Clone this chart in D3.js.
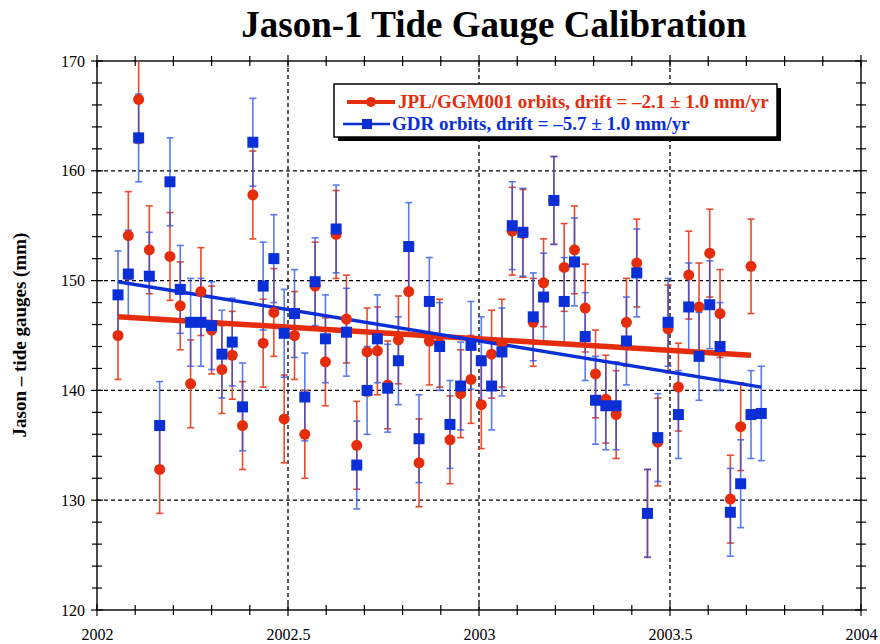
<!DOCTYPE html>
<html>
<head>
<meta charset="utf-8">
<script src="https://cdn.jsdelivr.net/npm/d3@7"></script>
<style>
body { margin: 0; background: #fff; }
text { font-family: "Liberation Serif", "Times New Roman", serif; }
</style>
</head>
<body>
<div id="chart"></div>
<script>
// Jason-1 cycle times (decimal year)
var years = [2002.055, 2002.082, 2002.109, 2002.137, 2002.164, 2002.191, 2002.218, 2002.245, 2002.272, 2002.300,
  2002.327, 2002.354, 2002.381, 2002.408, 2002.435, 2002.463, 2002.490, 2002.517, 2002.544, 2002.571,
  2002.598, 2002.626, 2002.653, 2002.680, 2002.707, 2002.734, 2002.761, 2002.789, 2002.816, 2002.843,
  2002.870, 2002.897, 2002.924, 2002.952, 2002.979, 2003.006, 2003.033, 2003.060, 2003.087, 2003.115,
  2003.142, 2003.169, 2003.196, 2003.223, 2003.250, 2003.278, 2003.305, 2003.332, 2003.359, 2003.386,
  2003.413, 2003.441, 2003.468, 2003.495, 2003.522, 2003.549, 2003.576, 2003.604, 2003.631, 2003.658,
  2003.685, 2003.712, 2003.739];

// JPL/GGM001 orbits (mm), one value less than years
var jplValues = [145.0, 154.1, 166.5, 152.8, 132.8, 152.2, 147.7, 140.6, 149.0, 145.5,
  141.9, 143.2, 136.8, 157.8, 144.3, 147.1, 137.4, 145.0, 136.0, 149.5,
  142.6, 154.2, 146.5, 135.0, 143.5, 143.6, 140.5, 144.6, 149.0, 133.4,
  144.5, 144.3, 135.5, 139.7, 141.0, 138.7, 143.3, 144.3, 154.5, 154.3,
  146.2, 149.8, 157.3, 151.2, 152.8, 147.5, 141.5, 139.2, 137.8, 146.2,
  151.6, 128.8, 135.3, 145.6, 140.3, 150.5, 147.6, 152.5, 147.0, 130.1,
  136.7, 151.3];
var jplErr = [4.0, 4.0, 4.0, 4.0, 4.0, 4.0, 4.0, 4.0, 4.0, 4.0,
  4.0, 4.0, 4.0, 4.0, 4.0, 4.0, 4.0, 4.0, 4.0, 4.0,
  4.0, 4.0, 4.0, 4.0, 4.0, 4.0, 4.0, 4.0, 4.0, 4.0,
  4.0, 4.0, 4.0, 4.0, 4.0, 4.0, 4.0, 4.0, 4.0, 4.0,
  4.0, 4.0, 4.0, 4.0, 4.0, 4.0, 4.0, 4.0, 4.0, 4.0,
  4.0, 4.0, 4.0, 4.0, 4.0, 4.0, 4.0, 4.0, 4.0, 4.0,
  4.0, 4.3];

// GDR orbits (mm)
var gdrValues = [148.7, 150.6, 163.0, 150.4, 136.8, 159.0, 149.2, 146.2, 146.2, 145.9,
  143.3, 144.4, 138.5, 162.6, 149.5, 152.0, 145.2, 147.0, 139.4, 149.9,
  144.7, 154.7, 145.3, 133.2, 140.0, 144.7, 140.2, 142.7, 153.1, 135.6,
  148.1, 144.0, 136.9, 140.4, 144.1, 142.7, 140.4, 143.5, 155.0, 154.4,
  146.7, 148.5, 157.3, 148.1, 151.7, 144.9, 139.1, 138.6, 138.6, 144.5,
  150.7, 128.8, 135.7, 146.2, 137.8, 147.6, 143.1, 147.8, 144.0, 128.9,
  131.5, 137.8, 137.9];
var gdrErr = [4.0, 4.0, 4.0, 4.0, 4.0, 4.0, 4.0, 4.0, 4.0, 4.0,
  4.0, 4.0, 4.0, 4.0, 4.0, 4.0, 4.0, 4.0, 4.0, 4.0,
  4.0, 4.0, 4.0, 4.0, 4.0, 4.0, 4.0, 4.0, 4.0, 4.0,
  4.0, 4.0, 4.0, 4.0, 4.0, 4.0, 4.0, 4.0, 4.0, 4.0,
  4.0, 4.0, 4.0, 4.0, 4.0, 4.0, 4.0, 4.0, 4.0, 4.0,
  4.0, 4.0, 4.0, 4.0, 4.0, 4.0, 4.0, 4.0, 4.0, 4.0,
  4.0, 4.0, 4.3];

// drift fit lines (end points)
var jplFitYears = [2002.055, 2003.712];
var jplFitValues = [146.7, 143.2];
var gdrFitYears = [2002.055, 2003.739];
var gdrFitValues = [149.9, 140.3];

var xTicks = [2002, 2002.5, 2003, 2003.5, 2004];
var xTickLabels = ["2002", "2002.5", "2003", "2003.5", "2004"];
var yTicks = [120, 130, 140, 150, 160, 170];
var xMinor = [2002.1, 2002.2, 2002.3, 2002.4, 2002.6, 2002.7, 2002.8, 2002.9,
  2003.1, 2003.2, 2003.3, 2003.4, 2003.6, 2003.7, 2003.8, 2003.9];
var yMinor = [122, 124, 126, 128, 132, 134, 136, 138, 142, 144, 146, 148,
  152, 154, 156, 158, 162, 164, 166, 168];

var legendLabels = ["JPL/GGM001 orbits, drift = \u20132.1 \u00b1 1.0 mm/yr",
  "GDR orbits, drift = \u20135.7 \u00b1 1.0 mm/yr"];

var red = "#e52d0c", redBar = "#ec4a2c";
var blue = "#0a2fd6", blueBar = "#2350e8";

var w = 880, h = 644;
var plotLeft = 97, plotRight = 861, plotTop = 61, plotBottom = 610;

var svg = d3.select("#chart").append("svg")
  .attr("width", w)
  .attr("height", h);

var x = d3.scaleLinear().domain([2002, 2004]).range([plotLeft, plotRight]);
var y = d3.scaleLinear().domain([120, 170]).range([plotBottom, plotTop]);

svg.append("clipPath").attr("id", "plot")
  .append("rect")
  .attr("x", plotLeft).attr("y", plotTop)
  .attr("width", plotRight - plotLeft).attr("height", plotBottom - plotTop);

// dashed grid
svg.selectAll(".gx")
  .data(xTicks.slice(1, -1))
  .enter().append("line")
  .attr("x1", function(d) { return x(d); })
  .attr("x2", function(d) { return x(d); })
  .attr("y1", plotTop).attr("y2", plotBottom)
  .attr("stroke", "#000").attr("stroke-width", 1.3)
  .attr("stroke-dasharray", "4,3");

svg.selectAll(".gy")
  .data(yTicks.slice(1, -1))
  .enter().append("line")
  .attr("y1", function(d) { return y(d); })
  .attr("y2", function(d) { return y(d); })
  .attr("x1", plotLeft).attr("x2", plotRight)
  .attr("stroke", "#000").attr("stroke-width", 1.3)
  .attr("stroke-dasharray", "4,3");

// frame
svg.append("rect")
  .attr("x", plotLeft).attr("y", plotTop)
  .attr("width", plotRight - plotLeft).attr("height", plotBottom - plotTop)
  .attr("fill", "none").attr("stroke", "#000").attr("stroke-width", 1.4);

// tick marks crossing all four sides
function xTickMarks(vals, len) {
  [plotTop, plotBottom].forEach(function(yy) {
    svg.append("g").selectAll("line")
      .data(vals).enter().append("line")
      .attr("x1", function(d) { return x(d); })
      .attr("x2", function(d) { return x(d); })
      .attr("y1", yy - len).attr("y2", yy + len)
      .attr("stroke", "#000").attr("stroke-width", 1.2);
  });
}
function yTickMarks(vals, len) {
  [plotLeft, plotRight].forEach(function(xx) {
    svg.append("g").selectAll("line")
      .data(vals).enter().append("line")
      .attr("y1", function(d) { return y(d); })
      .attr("y2", function(d) { return y(d); })
      .attr("x1", xx - len).attr("x2", xx + len)
      .attr("stroke", "#000").attr("stroke-width", 1.2);
  });
}
xTickMarks(xTicks, 6);
xTickMarks(xMinor, 5);
yTickMarks(yTicks, 6);
yTickMarks(yMinor, 5);

// axis labels
var xAxis = d3.axisBottom(x).tickValues(xTicks)
  .tickFormat(function(d, i) { return xTickLabels[i]; })
  .tickSize(0).tickPadding(19);
var gx = svg.append("g").attr("transform", "translate(0," + plotBottom + ")").call(xAxis);
var yAxis = d3.axisLeft(y).tickValues(yTicks).tickSize(0).tickPadding(12);
var gy = svg.append("g").attr("transform", "translate(" + plotLeft + ",0)").call(yAxis);
[gx, gy].forEach(function(g) {
  g.select(".domain").remove();
  g.selectAll("text")
    .attr("font-family", "Liberation Serif, serif")
    .attr("font-size", "16px")
    .attr("fill", "#000");
});

var jpl = jplValues.map(function(v, i) { return {t: years[i], v: v, e: jplErr[i]}; });
var gdr = gdrValues.map(function(v, i) { return {t: years[i], v: v, e: gdrErr[i]}; });

var plot = svg.append("g").attr("clip-path", "url(#plot)");

// error bars
function errorBars(data, color, op) {
  var g = plot.append("g").attr("stroke", color).attr("stroke-width", 1.6).attr("opacity", op);
  g.selectAll(".v").data(data).enter().append("line")
    .attr("x1", function(d) { return x(d.t); })
    .attr("x2", function(d) { return x(d.t); })
    .attr("y1", function(d) { return y(d.v - d.e); })
    .attr("y2", function(d) { return y(d.v + d.e); });
  g.selectAll(".c1").data(data).enter().append("line")
    .attr("x1", function(d) { return x(d.t) - 3.5; })
    .attr("x2", function(d) { return x(d.t) + 3.5; })
    .attr("y1", function(d) { return y(d.v - d.e); })
    .attr("y2", function(d) { return y(d.v - d.e); });
  g.selectAll(".c2").data(data).enter().append("line")
    .attr("x1", function(d) { return x(d.t) - 3.5; })
    .attr("x2", function(d) { return x(d.t) + 3.5; })
    .attr("y1", function(d) { return y(d.v + d.e); })
    .attr("y2", function(d) { return y(d.v + d.e); });
}
errorBars(jpl, redBar, 1);
errorBars(gdr, blueBar, 0.75);

// fit lines
var line = d3.line().x(function(d) { return x(d[0]); }).y(function(d) { return y(d[1]); });
plot.append("path")
  .attr("d", line(d3.zip(jplFitYears, jplFitValues)))
  .attr("stroke", red).attr("stroke-width", 5.5).attr("fill", "none");
plot.append("path")
  .attr("d", line(d3.zip(gdrFitYears, gdrFitValues)))
  .attr("stroke", blue).attr("stroke-width", 3.5).attr("fill", "none");

// markers
plot.selectAll(".dot").data(jpl).enter().append("circle")
  .attr("cx", function(d) { return x(d.t); })
  .attr("cy", function(d) { return y(d.v); })
  .attr("r", 5.5)
  .attr("fill", red);
plot.selectAll(".sq").data(gdr).enter().append("rect")
  .attr("x", function(d) { return x(d.t) - 5.5; })
  .attr("y", function(d) { return y(d.v) - 5.5; })
  .attr("width", 11).attr("height", 11)
  .attr("fill", blue);

// legend
svg.append("rect")
  .attr("x", 338).attr("y", 88).attr("width", 443).attr("height", 53)
  .attr("fill", "#000");
svg.append("rect")
  .attr("x", 334).attr("y", 84).attr("width", 443).attr("height", 53)
  .attr("fill", "#fff").attr("stroke", "#000").attr("stroke-width", 1.5);

svg.append("line").attr("x1", 347).attr("x2", 395).attr("y1", 102).attr("y2", 102)
  .attr("stroke", red).attr("stroke-width", 4);
svg.append("circle").attr("cx", 371).attr("cy", 102).attr("r", 5).attr("fill", red);
svg.append("line").attr("x1", 343).attr("x2", 390).attr("y1", 124).attr("y2", 124)
  .attr("stroke", blue).attr("stroke-width", 2.5);
svg.append("rect").attr("x", 362).attr("y", 119).attr("width", 10).attr("height", 10).attr("fill", blue);

svg.append("text").attr("x", 398).attr("y", 108)
  .attr("font-size", "19px").attr("font-weight", "bold").attr("fill", red)
  .text(legendLabels[0]);
svg.append("text").attr("x", 392).attr("y", 130)
  .attr("font-size", "19px").attr("font-weight", "bold").attr("fill", blue)
  .text(legendLabels[1]);

// titles
svg.append("text")
  .attr("x", 494).attr("y", 37)
  .attr("text-anchor", "middle")
  .attr("font-size", "37px").attr("font-weight", "bold")
  .text("Jason-1 Tide Gauge Calibration");

svg.append("text")
  .attr("transform", "translate(26,335) rotate(-90)")
  .attr("text-anchor", "middle")
  .attr("font-size", "19px").attr("font-weight", "bold")
  .text("Jason \u2013 tide gauges (mm)");
</script>
</body>
</html>
